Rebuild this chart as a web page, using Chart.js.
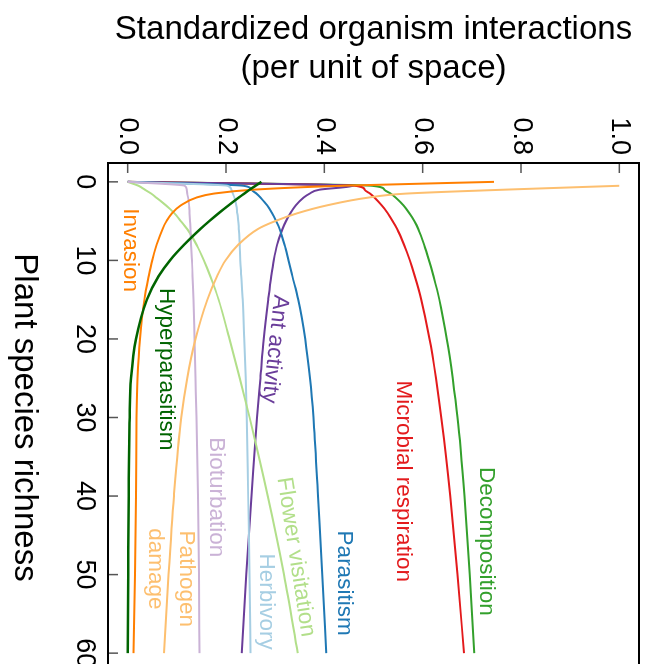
<!DOCTYPE html>
<html>
<head>
<meta charset="utf-8">
<script src="https://cdn.jsdelivr.net/npm/chart.js"></script>
<style>
  html, body { margin: 0; padding: 0; background: #fff; overflow: hidden; width: 648px; height: 664px; }
  /* the whole plot is drawn upright and then turned a quarter clockwise */
  #wrap { position: absolute; left: 0; top: 0; width: 690px; height: 648px;
          transform-origin: 0 0; transform: translate(648px, 0) rotate(90deg); }
</style>
</head>
<body>
<div id="wrap"><canvas id="chart" width="690" height="648"></canvas></div>
<script>
// x values (plant species richness) shared by every curve
var richness = [0, 0.5, 1, 1.5, 2, 3, 4, 5, 6, 8, 10, 12, 15, 20, 25, 30, 40, 50, 60];
var richnessTicks = [0, 10, 20, 30, 40, 50, 60];
var interactionTicks = [0, 0.2, 0.4, 0.6, 0.8, 1.0];

// standardized interactions
var hyperparasitism = [0.272, 0.26, 0.248, 0.237, 0.226, 0.205, 0.185, 0.166, 0.148, 0.115, 0.086, 0.063, 0.039, 0.017, 0.007, 0.004, 0.002, 0.001, 0.0];
var invasion = [0.745, 0.435, 0.255, 0.175, 0.14, 0.108, 0.09, 0.079, 0.071, 0.059, 0.05, 0.043, 0.034, 0.025, 0.02, 0.018, 0.017, 0.015, 0.012];
var pathogenDamage = [null, 1.0, 0.765, 0.565, 0.49, 0.405, 0.345, 0.3, 0.265, 0.225, 0.199, 0.182, 0.162, 0.138, 0.121, 0.109, 0.094, 0.083, 0.074];
var bioturbation = [0, 0.116, 0.12, 0.121, 0.123, 0.125, 0.126, 0.127, 0.128, 0.129, 0.131, 0.132, 0.134, 0.136, 0.138, 0.14, 0.143, 0.145, 0.146];
var flowerVisitation = [0, 0.022, 0.035, 0.048, 0.058, 0.078, 0.095, 0.108, 0.121, 0.14, 0.155, 0.168, 0.185, 0.207, 0.228, 0.248, 0.285, 0.318, 0.346];
var herbivory = [0, 0.203, 0.211, 0.214, 0.217, 0.221, 0.223, 0.225, 0.226, 0.228, 0.229, 0.231, 0.234, 0.237, 0.24, 0.242, 0.245, 0.248, 0.25];
var parasitism = [0, 0.236, 0.252, 0.262, 0.27, 0.284, 0.294, 0.302, 0.309, 0.319, 0.327, 0.335, 0.347, 0.361, 0.371, 0.378, 0.387, 0.396, 0.404];
var antActivity = [0, 0.46, 0.39, 0.37, 0.358, 0.342, 0.331, 0.322, 0.315, 0.304, 0.297, 0.292, 0.286, 0.277, 0.27, 0.263, 0.252, 0.241, 0.232];
var microbialRespiration = [0, 0.462, 0.482, 0.493, 0.502, 0.517, 0.529, 0.539, 0.548, 0.562, 0.574, 0.584, 0.597, 0.614, 0.627, 0.638, 0.656, 0.671, 0.684];
var decomposition = [0, 0.497, 0.522, 0.535, 0.545, 0.561, 0.573, 0.583, 0.591, 0.603, 0.613, 0.622, 0.634, 0.649, 0.661, 0.671, 0.685, 0.696, 0.705];

var colors = {
    hyper: '#006400', invasion: '#ff7f00', pathogen: '#fdbf6f', biot: '#cab2d6', flower: '#b2df8a',
    herb: '#a6cee3', para: '#1f78b4', ant: '#6a3d9a', micro: '#e31a1c', decomp: '#33a02c'
};

// in-plot labels: start richness, middle interaction, tilt in degrees
var curveLabels = [
    {text: 'Invasion', s: 3.35, v: 0.006, angle: 0, color: colors.invasion},
    {text: 'Hyperparasitism', s: 13.5, v: 0.079, angle: 0, color: colors.hyper},
    {text: 'Bioturbation', s: 32.5, v: 0.181, angle: 0, color: colors.biot},
    {text: 'Pathogen', s: 44.4, v: 0.119, angle: 0, color: colors.pathogen},
    {text: 'damage', s: 44.1, v: 0.056, angle: 0, color: colors.pathogen},
    {text: 'Herbivory', s: 47.3, v: 0.281, angle: 0, color: colors.herb},
    {text: 'Flower visitation', s: 37.6, v: 0.317, angle: -8.7, color: colors.flower},
    {text: 'Parasitism', s: 44.4, v: 0.44, angle: 0, color: colors.para},
    {text: 'Ant activity', s: 14.4, v: 0.311, angle: 6.3, color: colors.ant},
    {text: 'Microbial respiration', s: 25.3, v: 0.56, angle: 0, color: colors.micro},
    {text: 'Decomposition', s: 36.3, v: 0.73, angle: 0, color: colors.decomp}
];

function series(label, values, color, width) {
    return {
        label: label,
        data: richness.map(function (s, i) { return {x: s, y: values[i]}; }),
        borderColor: color,
        borderWidth: width || 2,
        pointRadius: 0,
        fill: false,
        cubicInterpolationMode: 'monotone'
    };
}

// first dataset ends up on top
var datasets = [
    series('Hyperparasitism', hyperparasitism, colors.hyper, 2.5),
    series('Invasion', invasion, colors.invasion),
    series('Pathogen damage', pathogenDamage, colors.pathogen),
    series('Bioturbation', bioturbation, colors.biot),
    series('Flower visitation', flowerVisitation, colors.flower),
    series('Herbivory', herbivory, colors.herb),
    series('Parasitism', parasitism, colors.para),
    series('Ant activity', antActivity, colors.ant),
    series('Microbial respiration', microbialRespiration, colors.micro),
    series('Decomposition', decomposition, colors.decomp)
];

var fontFamily = "'Liberation Sans', Arial, sans-serif";

// inward tick marks, box and the curve names
var extras = {
    id: 'extras',
    afterDraw: function (chart) {
        var ctx = chart.ctx, a = chart.chartArea, xs = chart.scales.x, ys = chart.scales.y;
        ctx.save();
        ctx.strokeStyle = '#555';
        ctx.lineWidth = 1.5;
        richnessTicks.forEach(function (t) {
            var px = xs.getPixelForValue(t);
            ctx.beginPath(); ctx.moveTo(px, a.bottom); ctx.lineTo(px, a.bottom - 10); ctx.stroke();
        });
        interactionTicks.forEach(function (t) {
            var py = ys.getPixelForValue(t);
            ctx.beginPath(); ctx.moveTo(a.left, py); ctx.lineTo(a.left + 10, py); ctx.stroke();
        });
        ctx.strokeStyle = '#000';
        ctx.lineWidth = 2;
        ctx.strokeRect(a.left, a.top, a.right - a.left, a.bottom - a.top);

        ctx.font = '22.5px ' + fontFamily;
        ctx.textAlign = 'left';
        ctx.textBaseline = 'middle';
        curveLabels.forEach(function (l) {
            ctx.save();
            ctx.translate(xs.getPixelForValue(l.s), ys.getPixelForValue(l.v));
            ctx.rotate(l.angle * Math.PI / 180);
            ctx.fillStyle = l.color;
            ctx.fillText(l.text, 0, 0);
            ctx.restore();
        });
        ctx.restore();
    }
};

new Chart(document.getElementById('chart'), {
    type: 'line',
    data: {datasets: datasets},
    plugins: [extras],
    options: {
        responsive: false,
        animation: false,
        devicePixelRatio: 1,
        layout: {padding: {left: 0, top: 9, right: 18, bottom: 0}},
        plugins: {legend: {display: false}, tooltip: {enabled: false}},
        scales: {
            x: {
                type: 'linear', min: -2.4, max: 62.4,
                afterBuildTicks: function (s) { s.ticks = richnessTicks.map(function (v) { return {value: v}; }); },
                afterFit: function (s) { s.height = 108; s.paddingLeft = 0; s.paddingRight = 0; },
                grid: {display: false, drawTicks: false},
                border: {display: false},
                title: {display: true, text: 'Plant species richness', color: '#000',
                        font: {family: fontFamily, size: 33}, padding: {top: 0, bottom: 4}},
                ticks: {color: '#000', font: {family: fontFamily, size: 27}, padding: 7,
                        maxRotation: 0, autoSkip: false, callback: function (v) { return v; }}
            },
            y: {
                type: 'linear', min: -0.04, max: 1.04,
                afterBuildTicks: function (s) { s.ticks = interactionTicks.map(function (v) { return {value: v}; }); },
                afterFit: function (s) { s.width = 163; s.paddingTop = 0; s.paddingBottom = 0; },
                grid: {display: false, drawTicks: false},
                border: {display: false},
                title: {display: true, text: ['Standardized organism interactions', '(per unit of space)'], color: '#000',
                        font: {family: fontFamily, size: 33}, padding: {top: 10, bottom: 0}},
                ticks: {color: '#000', font: {family: fontFamily, size: 27}, padding: 8,
                        autoSkip: false, callback: function (v) { return v.toFixed(1); }}
            }
        }
    }
});
</script>
</body>
</html>
